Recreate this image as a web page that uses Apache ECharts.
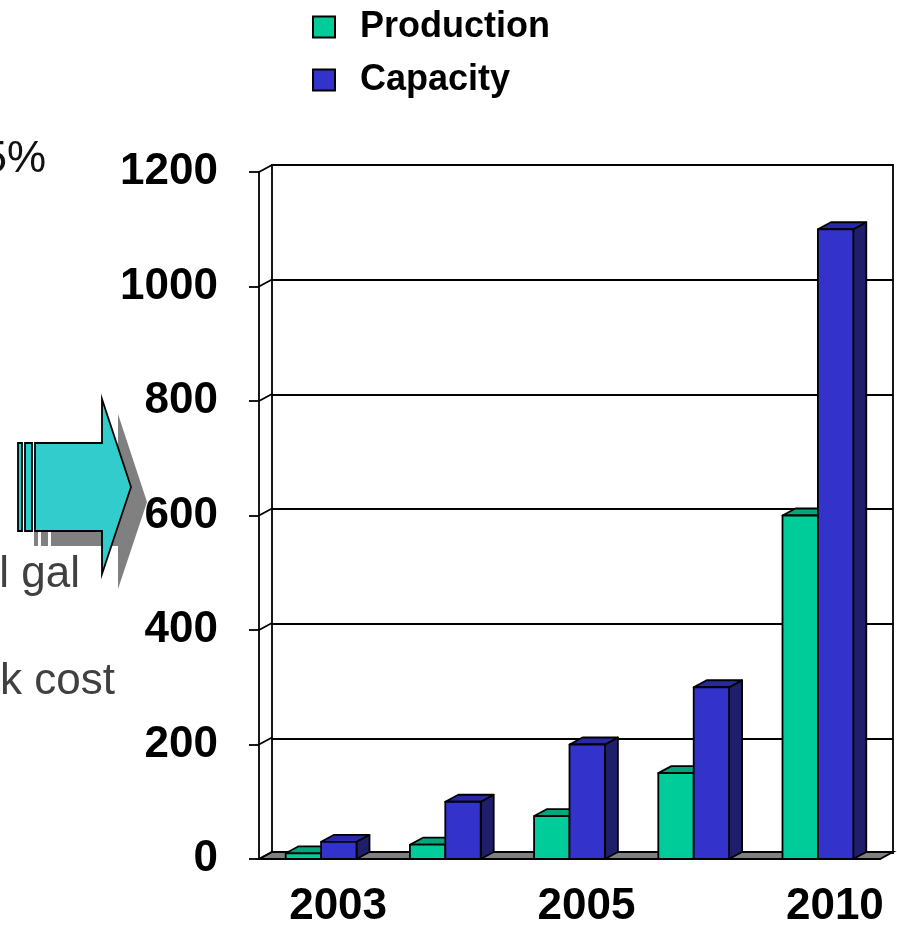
<!DOCTYPE html>
<html>
<head>
<meta charset="utf-8">
<script src="https://cdn.jsdelivr.net/npm/echarts@6/dist/echarts.min.js"></script>
<style>
  html, body { margin: 0; padding: 0; background: #fff; }
  #chart { width: 897px; height: 929px; }
</style>
</head>
<body>
<div id="chart"></div>
<script>
// Categories and series values
const years = ['2003', '2004', '2005', '2006', '2010'];
const production = [10, 25, 75, 150, 600];
const capacity = [30, 100, 200, 300, 1100];
const yTicks = [0, 200, 400, 600, 800, 1000, 1200];

// Depth offset used for the pseudo-3D look (right / up)
const DX = 13, DY = -7;
const BAR_RATIO = 0.285;
const LW = 1.8;
const FONT = '"Liberation Sans", Arial, Helvetica, sans-serif';

const colors = {
  production: { front: '#00CC99', top: '#00A67C', side: '#006B50' },
  capacity:   { front: '#3333CC', top: '#2929A8', side: '#1E1E6B' }
};

function barRenderer(palette, leftSide) {
  return function (params, api) {
    const idx = api.value(0);
    const val = api.value(1);
    const base = api.coord([idx, 0]);
    const top = api.coord([idx, val]);
    const slot = api.size([1, 0])[0];
    const bw = slot * BAR_RATIO;
    const x0 = leftSide ? base[0] - bw : base[0];
    const x1 = x0 + bw;
    const ty = top[1], by = base[1];
    const stroke = { stroke: '#000', lineWidth: LW, lineJoin: 'round' };
    return {
      type: 'group',
      children: [
        { type: 'polygon', shape: { points: [[x1, ty], [x1 + DX, ty + DY], [x1 + DX, by + DY], [x1, by]] },
          style: Object.assign({ fill: palette.side }, stroke) },
        { type: 'polygon', shape: { points: [[x0, ty], [x1, ty], [x1 + DX, ty + DY], [x0 + DX, ty + DY]] },
          style: Object.assign({ fill: palette.top }, stroke) },
        { type: 'rect', shape: { x: x0, y: ty, width: bw, height: by - ty },
          style: Object.assign({ fill: palette.front }, stroke) }
      ]
    };
  };
}

// Floor plate and the slanted links between the front axis and the back wall
function frameRenderer(params, api) {
  const v = api.value(0);
  const p = api.coord([0, v]);
  const slot = api.size([1, 0])[0];
  const left = p[0] - slot / 2;
  const y = p[1];
  const children = [
    { type: 'line', shape: { x1: left, y1: y, x2: left + DX, y2: y + DY },
      style: { stroke: '#000', lineWidth: LW } }
  ];
  if (v === 0) {
    const right = api.coord([years.length - 1, 0])[0] + slot / 2;
    children.unshift({
      type: 'polygon',
      shape: { points: [[left, y], [right, y], [right + DX, y + DY], [left + DX, y + DY]] },
      style: { fill: '#808080', stroke: '#000', lineWidth: LW }
    });
  }
  return { type: 'group', children };
}

const chart = echarts.init(document.getElementById('chart'), null, { renderer: 'canvas' });

const arrowPts = [[35, 443], [102, 443], [102, 399], [131, 487], [102, 574], [102, 531], [35, 531]];
const shift = (pts, dx, dy) => pts.map(p => [p[0] + dx, p[1] + dy]);

chart.setOption({
  backgroundColor: '#fff',
  animation: false,
  legend: {
    data: ['Production', 'Capacity'],
    orient: 'vertical',
    left: 307,
    top: 4,
    itemWidth: 22,
    itemHeight: 21,
    itemGap: 17,
    icon: 'rect',
    itemStyle: { borderColor: '#000', borderWidth: 2 },
    textStyle: { fontFamily: FONT, fontWeight: 'bold', fontSize: 36, color: '#000', padding: [0, 0, 0, 20] }
  },
  grid: [
    { left: 259, right: 17, top: 172, bottom: 69 },
    { left: 272, right: 4, top: 165, bottom: 76, show: true, backgroundColor: '#fff',
      borderColor: '#000', borderWidth: LW }
  ],
  xAxis: [
    {
      gridIndex: 0, type: 'category', data: years,
      axisLine: { lineStyle: { color: '#000', width: LW } },
      axisTick: { interval: 0, length: 6, lineStyle: { color: '#000', width: LW } },
      axisLabel: { interval: 1, margin: 26, padding: [0, 0, 0, 34], color: '#000',
        fontFamily: FONT, fontWeight: 'bold', fontSize: 44 },
      splitLine: { show: false }
    },
    { gridIndex: 1, type: 'category', data: years, show: false }
  ],
  yAxis: [
    {
      gridIndex: 0, type: 'value', min: 0, max: 1200, interval: 200,
      axisLine: { show: true, lineStyle: { color: '#000', width: LW } },
      axisTick: { show: true, length: 10, lineStyle: { color: '#000', width: LW } },
      axisLabel: { margin: 41, color: '#000', fontFamily: FONT, fontWeight: 'bold', fontSize: 44,
        formatter: v => String(v) },
      splitLine: { show: false }
    },
    {
      gridIndex: 1, type: 'value', min: 0, max: 1200, interval: 200,
      axisLine: { show: false }, axisTick: { show: false }, axisLabel: { show: false },
      splitLine: { show: true, lineStyle: { color: '#000', width: LW } }
    }
  ],
  series: [
    {
      name: 'frame', type: 'custom', xAxisIndex: 0, yAxisIndex: 0, z: 1,
      silent: true, clip: false,
      data: yTicks.map(v => [v]),
      encode: { y: 0 },
      renderItem: frameRenderer
    },
    {
      name: 'Production', type: 'custom', xAxisIndex: 0, yAxisIndex: 0, z: 3, clip: false,
      itemStyle: { color: colors.production.front },
      data: production.map((v, i) => [i, v]),
      encode: { x: 0, y: 1 },
      renderItem: barRenderer(colors.production, true)
    },
    {
      name: 'Capacity', type: 'custom', xAxisIndex: 0, yAxisIndex: 0, z: 4, clip: false,
      itemStyle: { color: colors.capacity.front },
      data: capacity.map((v, i) => [i, v]),
      encode: { x: 0, y: 1 },
      renderItem: barRenderer(colors.capacity, false)
    }
  ],
  graphic: [
    // Block arrow with its drop shadow
    { type: 'polygon', shape: { points: shift(arrowPts, 16, 15) }, style: { fill: '#808080' }, z: 1 },
    { type: 'rect', shape: { x: 34, y: 458, width: 4, height: 88 }, style: { fill: '#808080' }, z: 1 },
    { type: 'rect', shape: { x: 41, y: 458, width: 7, height: 88 }, style: { fill: '#808080' }, z: 1 },
    { type: 'polygon', shape: { points: arrowPts }, style: { fill: '#33CCCC', stroke: '#000', lineWidth: LW }, z: 2 },
    { type: 'rect', shape: { x: 18, y: 443, width: 4, height: 88 }, style: { fill: '#33CCCC', stroke: '#000', lineWidth: LW }, z: 2 },
    { type: 'rect', shape: { x: 25, y: 443, width: 7, height: 88 }, style: { fill: '#33CCCC', stroke: '#000', lineWidth: LW }, z: 2 },
    // Side notes
    { type: 'text', x: 46, y: 160, style: { text: '5%', fontFamily: FONT, fontSize: 44, fill: '#111',
      align: 'right', verticalAlign: 'middle' } },
    { type: 'text', x: 80, y: 575, style: { text: 'l gal', fontFamily: FONT, fontSize: 44, fill: '#404040',
      align: 'right', verticalAlign: 'middle' } },
    { type: 'text', x: 115, y: 682, style: { text: 'k cost', fontFamily: FONT, fontSize: 44, fill: '#404040',
      align: 'right', verticalAlign: 'middle' } }
  ]
});
</script>
</body>
</html>
